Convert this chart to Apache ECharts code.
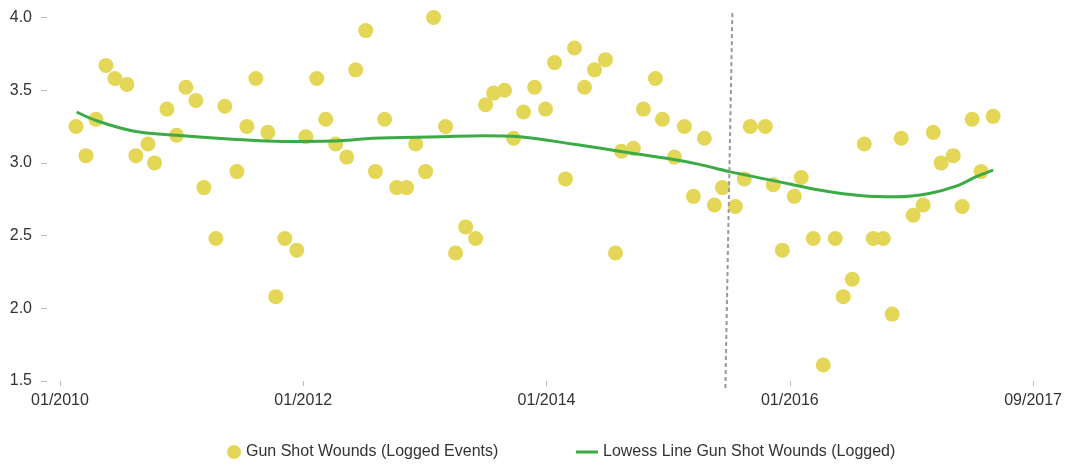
<!DOCTYPE html>
<html>
<head>
<meta charset="utf-8">
<script src="https://cdn.jsdelivr.net/npm/echarts@6/dist/echarts.min.js"></script>
<style>
    html, body { margin: 0; padding: 0; background: #fff; }
    #chart { width: 1065px; height: 466px; }
</style>
</head>
<body>
<div id="chart"></div>
<script>
// x positions are months since 01/2010
const gswMonths = [
    1.58, 2.56, 3.55, 4.53, 5.42, 6.60, 7.49, 8.67, 9.33, 10.55,
    11.50, 12.42, 13.40, 14.19, 15.38, 16.26, 17.45, 18.43, 19.32, 20.50,
    21.29, 22.18, 23.36, 24.25, 25.33, 26.22, 27.20, 28.29, 29.17, 30.16,
    31.12, 32.03, 33.22, 34.20, 35.09, 36.07, 36.86, 38.04, 39.03, 40.02,
    41.00, 41.99, 42.78, 43.86, 44.75, 45.73, 46.82, 47.90, 48.79, 49.87,
    50.76, 51.75, 52.73, 53.81, 54.80, 55.39, 56.57, 57.56, 58.74, 59.43,
    60.62, 61.60, 62.49, 63.57, 64.56, 65.35, 66.63, 67.51, 68.10, 69.58,
    70.37, 71.26, 72.44, 73.13, 74.31, 75.30, 76.48, 77.27, 78.16, 79.34,
    80.23, 81.22, 82.10, 82.99, 84.17, 85.16, 86.15, 86.93, 88.12, 89.00,
    89.99, 90.87, 92.06
];
const gswValues = [
    3.25, 3.05, 3.30, 3.67, 3.58, 3.54, 3.05, 3.13, 3.00, 3.37,
    3.19, 3.52, 3.43, 2.83, 2.48, 3.39, 2.94, 3.25, 3.58, 3.21,
    2.08, 2.48, 2.40, 3.18, 3.58, 3.30, 3.13, 3.04, 3.64, 3.91,
    2.94, 3.30, 2.83, 2.83, 3.13, 2.94, 4.00, 3.25, 2.38, 2.56,
    2.48, 3.40, 3.48, 3.50, 3.17, 3.35, 3.52, 3.37, 3.69, 2.89,
    3.79, 3.52, 3.64, 3.71, 2.38, 3.08, 3.10, 3.37, 3.58, 3.30,
    3.04, 3.25, 2.77, 3.17, 2.71, 2.83, 2.70, 2.89, 3.25, 3.25,
    2.85, 2.40, 2.77, 2.90, 2.48, 1.61, 2.48, 2.08, 2.20, 3.13,
    2.48, 2.48, 1.96, 3.17, 2.64, 2.71, 3.21, 3.00, 3.05, 2.70,
    3.30, 2.94, 3.32
];

const lowessMonths = [1.64, 3.62, 7.20, 11.50, 17.05, 21.98, 27.60, 30.85, 37.45, 41.69,
    45.34, 50.56, 55.49, 60.42, 63.08, 66.03, 70.27, 75.20, 79.14, 82.50, 85.75, 88.41, 90.38, 92.06];
const lowessValues = [3.35, 3.29, 3.22, 3.19, 3.163, 3.148, 3.153, 3.17, 3.18, 3.187,
    3.18, 3.13, 3.077, 3.025, 2.99, 2.94, 2.88, 2.81, 2.774, 2.767, 2.79, 2.84, 2.905, 2.95];

// dashed marker line (top, bottom)
const markerMonths = [66.33, 65.64];
const markerValues = [4.03, 1.445];

const xTickMonths = [0, 24, 48, 72, 96];
const xTickLabels = ['01/2010', '01/2012', '01/2014', '01/2016', '09/2017'];

const FONT = '"Liberation Sans", Arial, sans-serif';

const chart = echarts.init(document.getElementById('chart'));

chart.setOption({
    animation: false,
    grid: { left: 60, right: 31, top: 17.5, bottom: 85 },
    legend: [
        {
            left: 222, top: 439,
            itemWidth: 14, itemHeight: 14, itemGap: 5,
            textStyle: { fontFamily: FONT, fontSize: 16, color: '#333' },
            data: [{ name: 'Gun Shot Wounds (Logged Events)', icon: 'circle' }]
        },
        {
            left: 571, top: 439,
            itemWidth: 22, itemHeight: 3,
            textStyle: { fontFamily: FONT, fontSize: 16, color: '#333' },
            data: [{ name: 'Lowess Line Gun Shot Wounds (Logged)', icon: 'rect' }]
        }
    ],
    xAxis: {
        type: 'value',
        min: 0, max: 96, interval: 24,
        axisLine: { show: false, onZero: false },
        axisTick: { show: true, length: 5, lineStyle: { color: '#bbb' } },
        splitLine: { show: false },
        axisLabel: {
            margin: 12,
            showMinLabel: true, showMaxLabel: true,
            fontFamily: FONT, fontSize: 16, color: '#333',
            formatter: v => xTickLabels[xTickMonths.indexOf(v)] ?? ''
        }
    },
    yAxis: {
        type: 'value',
        min: 1.5, max: 4.0, interval: 0.5,
        offset: 13,
        axisLine: { show: false, onZero: false },
        axisTick: { show: true, length: 6, lineStyle: { color: '#bbb' } },
        splitLine: { show: false },
        axisLabel: {
            margin: 15,
            fontFamily: FONT, fontSize: 16, color: '#333',
            formatter: v => v.toFixed(1)
        }
    },
    series: [
        {
            name: 'Gun Shot Wounds (Logged Events)',
            type: 'scatter',
            symbolSize: 15,
            itemStyle: { color: '#e4d656', opacity: 1 },
            data: gswMonths.map((m, i) => [m, gswValues[i]])
        },
        {
            name: 'Lowess Line Gun Shot Wounds (Logged)',
            type: 'line',
            smooth: 0.35,
            symbol: 'none',
            itemStyle: { color: '#3cab47' },
            lineStyle: { color: '#3cab47', width: 3 },
            data: lowessMonths.map((m, i) => [m, lowessValues[i]])
        },
        {
            name: 'marker',
            type: 'line',
            symbol: 'none',
            silent: true,
            clip: false,
            lineStyle: { color: '#999', width: 2, type: [4, 3] },
            data: markerMonths.map((m, i) => [m, markerValues[i]])
        }
    ]
});

window.addEventListener('resize', () => chart.resize());
</script>
</body>
</html>
